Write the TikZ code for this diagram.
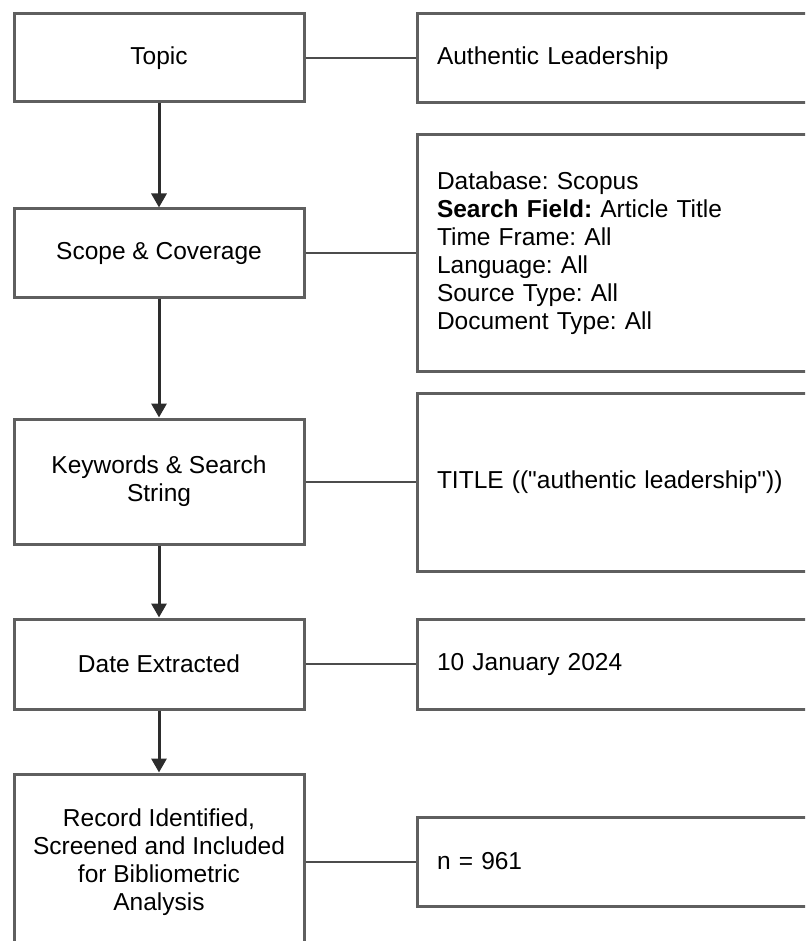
\documentclass[tikz,border=0pt]{standalone}
\usepackage{fontspec}
\setmainfont{Liberation Sans}[Ligatures=TeXOff]
\usetikzlibrary{arrows.meta}
\definecolor{boxline}{RGB}{95,95,95}
\definecolor{arrline}{RGB}{45,45,45}
\frenchspacing
\begin{document}
\begin{tikzpicture}[x=1pt,y=-1pt,
  every node/.style={font=\fontsize{24.5}{28}\selectfont, text=black},
  leftbox/.style={draw=boxline, line width=3pt, rectangle, minimum width=290pt, inner sep=0pt, align=center},
  rightbox/.style={draw=boxline, line width=3pt, rectangle, minimum width=453pt, text width=413pt, inner xsep=20pt, inner ysep=0pt, align=left},
  arr/.style={draw=arrline, line width=3pt, -{Triangle[width=15pt,length=14pt]}},
  conn/.style={draw=arrline!85!white, line width=2pt}]
\useasboundingbox (0,0) rectangle (805,941);
\clip (0,0) rectangle (805,941);
% left column
\node[leftbox, minimum height=88pt] (topic) at (159,58) {Topic};
\node[leftbox, minimum height=88pt] (scope) at (159,253) {Scope \& Coverage};
\node[leftbox, minimum height=125pt] (kw) at (159,481.5) {Keywords \& Search\\String};
\node[leftbox, minimum height=90pt] (date) at (159,664) {Date Extracted};
\node[leftbox, minimum height=176pt] (rec) at (159,862) {Record Identified,\\Screened and Included\\for Bibliometric\\Analysis};
% right column
\node[rightbox, minimum height=89pt] (r1) at (643.5,58) {Authentic Leadership};
\node[rightbox, minimum height=236pt] (r2) at (643.5,253) {Database: Scopus\\\textbf{Search Field:} Article Title\\Time Frame: All\\Language: All\\Source Type: All\\Document Type: All};
\node[rightbox, minimum height=178pt] (r3) at (643.5,482) {TITLE (("authentic leadership"))};
\node[rightbox, minimum height=90pt] (r4) at (643.5,664) {10 January 2024};
\node[rightbox, minimum height=89pt] (r5) at (643.5,861.5) {n = 961};
% arrows
\draw[arr] (topic.south) -- (scope.north);
\draw[arr] (scope.south) -- (kw.north);
\draw[arr] (kw.south) -- (date.north);
\draw[arr] (date.south) -- (rec.north);
% connectors
\draw[conn] (topic.east) -- (topic.east -| r1.west);
\draw[conn] (scope.east) -- (scope.east -| r2.west);
\draw[conn] (kw.east) -- (kw.east -| r3.west);
\draw[conn] (date.east) -- (date.east -| r4.west);
\draw[conn] (rec.east) -- (rec.east -| r5.west);
\end{tikzpicture}
\end{document}
